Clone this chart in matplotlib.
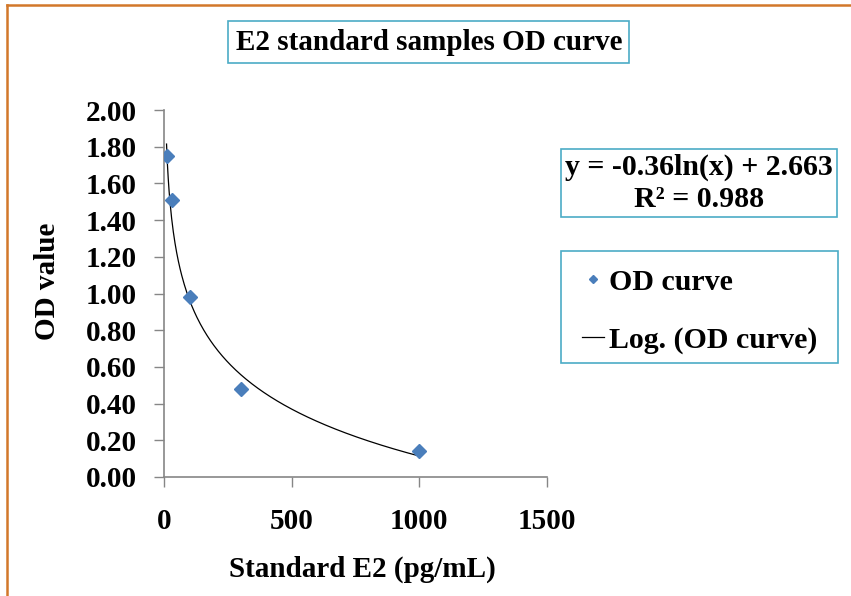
import matplotlib.pyplot as plt
import numpy as np
from matplotlib.lines import Line2D
from matplotlib.patches import Rectangle

plt.rcParams['font.family'] = ['Liberation Serif', 'DejaVu Serif']
plt.rcParams['font.weight'] = 'bold'

# data
conc = [10, 30, 100, 300, 1000]
od = [1.75, 1.51, 0.98, 0.48, 0.14]
x_ticks = [0, 500, 1000, 1500]
y_ticks = [0.0, 0.2, 0.4, 0.6, 0.8, 1.0, 1.2, 1.4, 1.6, 1.8, 2.0]
title = "E2 standard samples OD curve"
eq_text = "y = -0.36ln(x) + 2.663\nR\u00b2 = 0.988"

fig = plt.figure(figsize=(8.51, 5.96), dpi=100)
ax = fig.add_axes([0.1927, 0.1997, 0.4501, 0.6157])

# log trendline fitted from the points
b, a = np.polyfit(np.log(conc), od, 1)
xs = np.linspace(min(conc), max(conc), 300)
ax.plot(xs, a + b * np.log(xs), color='black', lw=0.9)
ax.plot(conc, od, ls='none', marker='D', ms=7, color='#4A7EBB', zorder=3)

ax.set_xlim(0, 1500)
ax.set_ylim(0, 2.0)
ax.set_xticks(x_ticks)
ax.set_yticks(y_ticks)
ax.set_yticklabels([f"{v:.2f}" for v in y_ticks])
ax.tick_params(labelsize=21, direction='out', length=7.5, color='#868686',
               width=1, pad=12)
ax.tick_params(axis='x', pad=15)
for s in ['top', 'right']:
    ax.spines[s].set_visible(False)
for s in ['left', 'bottom']:
    ax.spines[s].set_color('#868686')
    ax.spines[s].set_linewidth(1.2)

ax.set_xlabel("Standard E2 (pg/mL)", fontsize=21, fontweight='bold')
ax.set_ylabel("OD value", fontsize=21, fontweight='bold')
ax.xaxis.label.set_va('center')
ax.yaxis.label.set_va('center')
ax.xaxis.set_label_coords(0.518, -0.253)
ax.yaxis.set_label_coords(-0.305, 0.534)

fig.text(0.504, 0.9295, title, ha='center', va='center', fontsize=21,
         fontweight='bold',
         bbox=dict(boxstyle='square,pad=0.25', fc='white', ec='#4BACC6', lw=1.2))
fig.text(0.8215, 0.693, eq_text, ha='center', va='center', fontsize=21.5,
         fontweight='bold', linespacing=1.25,
         bbox=dict(boxstyle='square,pad=0.13', fc='white', ec='#4BACC6', lw=1.2))

# legend box drawn separately so its size matches the original
fig.add_artist(Rectangle((0.6592, 0.3909), 0.3255, 0.1879, transform=fig.transFigure,
                         fc='white', ec='#4BACC6', lw=1.2))
handles = [Line2D([], [], ls='none', marker='D', ms=4.5, color='#4A7EBB'),
           Line2D([], [], color='black', lw=0.9)]
leg = fig.legend(handles, ['OD curve', 'Log. (OD curve)'], loc='upper left',
                 bbox_to_anchor=(0.659, 0.584), borderaxespad=0, frameon=False,
                 handlelength=0.75, handletextpad=0.15,
                 labelspacing=1.04, borderpad=0.7,
                 prop={'weight': 'bold', 'size': 21.5})
leg.set_zorder(5)

# orange frame on top and left
fig.add_artist(Line2D([0.0088, 1.0], [0.992, 0.992], color='#D2782A', lw=1.8))
fig.add_artist(Line2D([0.0088, 0.0088], [0.0, 0.992], color='#D2782A', lw=1.8))

fig.savefig('out.png', dpi=100)
